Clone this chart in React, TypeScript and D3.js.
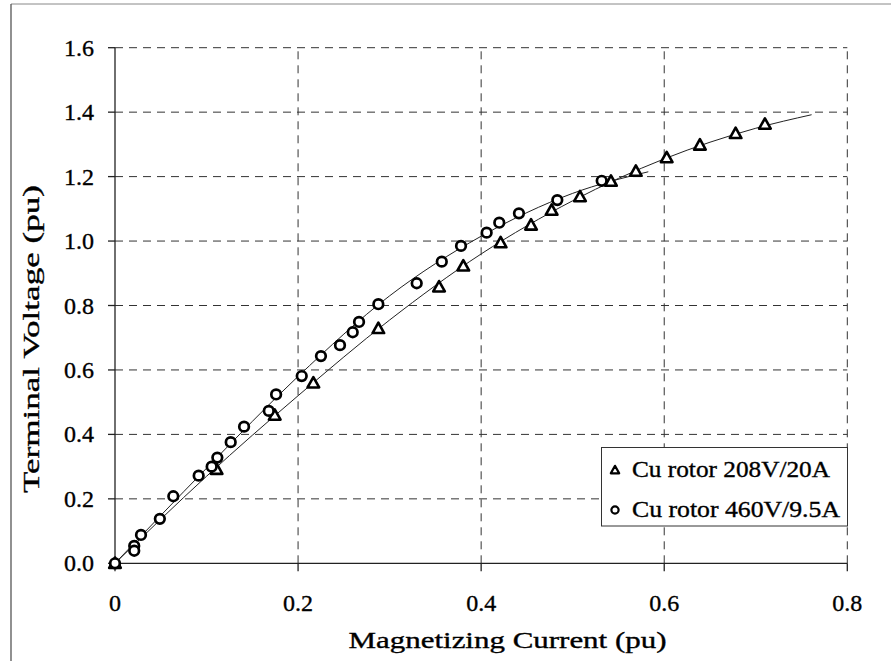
import React from "react";
import * as d3 from "d3";

// Cu rotor 208V/20A (triangles)
const triX = [0, 0.111, 0.1745, 0.2167, 0.2877, 0.354, 0.3805, 0.4213, 0.4545, 0.477, 0.508, 0.5418, 0.569, 0.6027, 0.639, 0.678, 0.71];
const triY = [0, 0.292, 0.46, 0.56, 0.729, 0.858, 0.923, 0.995, 1.05, 1.096, 1.138, 1.186, 1.217, 1.259, 1.298, 1.334, 1.363];

// Cu rotor 460V/9.5A (circles)
const circX = [0, 0.021, 0.021, 0.0284, 0.049, 0.0637, 0.0914, 0.1056, 0.1118, 0.1264, 0.141, 0.168, 0.176, 0.204, 0.225, 0.2458, 0.2597, 0.2666, 0.2877, 0.3296, 0.357, 0.378, 0.406, 0.4198, 0.4413, 0.4832, 0.5317];
const circY = [0, 0.054, 0.039, 0.088, 0.138, 0.208, 0.272, 0.3, 0.328, 0.376, 0.424, 0.473, 0.524, 0.581, 0.643, 0.677, 0.717, 0.749, 0.804, 0.869, 0.936, 0.985, 1.026, 1.057, 1.086, 1.127, 1.187];

// trend lines
const triTrendX = [0, 0.1, 0.2, 0.3, 0.4, 0.5, 0.6, 0.7, 0.761];
const triTrendY = [0, 0.27, 0.52, 0.755, 0.96, 1.125, 1.255, 1.35, 1.392];
const circTrendX = [0, 0.1, 0.2, 0.3, 0.4, 0.5, 0.5826];
const circTrendY = [0, 0.295, 0.58, 0.83, 1.015, 1.148, 1.215];

const xTicks = [0, 0.2, 0.4, 0.6, 0.8];
const yTicks = [0, 0.2, 0.4, 0.6, 0.8, 1.0, 1.2, 1.4, 1.6];
const legendLabels = ["Cu rotor 208V/20A", "Cu rotor 460V/9.5A"];

const W = 891;
const H = 661;
const FONT = "Liberation Serif";

export default function App() {
  const x = d3.scaleLinear().domain([0, 0.8]).range([115, 847.3]);
  const y = d3.scaleLinear().domain([0, 1.6]).range([563.3, 47.7]);

  const line = d3
    .line<[number, number]>()
    .x((d) => x(d[0]))
    .y((d) => y(d[1]))
    .curve(d3.curveMonotoneX);

  const triPts = triX.map((v, i) => [v, triY[i]] as [number, number]);
  const circPts = circX.map((v, i) => [v, circY[i]] as [number, number]);
  const triTrend = triTrendX.map((v, i) => [v, triTrendY[i]] as [number, number]);
  const circTrend = circTrendX.map((v, i) => [v, circTrendY[i]] as [number, number]);

  const triPath = (cx: number, cy: number, s = 5.5) =>
    `M${cx},${cy - s}L${cx + s},${cy + s * 0.8}L${cx - s},${cy + s * 0.8}Z`;

  const dash = "8,6";
  const txt = { fill: "#000", stroke: "#000", strokeWidth: 0.35 };

  return (
    <svg width={W} height={H} style={{ position: "absolute", left: 0, top: 0, background: "#fff" }} fontFamily={FONT}>
      {/* outer frame */}
      <line x1={11} y1={4} x2={W} y2={4} stroke="#888" strokeWidth={1} />
      <line x1={11} y1={4} x2={11} y2={H} stroke="#555" strokeWidth={1.3} />

      {/* grid */}
      {yTicks.slice(1).map((t) => (
        <line key={"gy" + t} x1={x(0)} x2={x(0.8)} y1={y(t)} y2={y(t)} stroke="#333" strokeWidth={1} strokeDasharray={dash} />
      ))}
      {xTicks.slice(1).map((t) => (
        <line key={"gx" + t} x1={x(t)} x2={x(t)} y1={y(0)} y2={y(1.6)} stroke="#333" strokeWidth={1} strokeDasharray={dash} />
      ))}

      {/* axes */}
      <line x1={x(0)} x2={x(0)} y1={y(0)} y2={y(1.6)} stroke="#222" strokeWidth={1.3} />
      <line x1={x(0)} x2={x(0.8)} y1={y(0)} y2={y(0)} stroke="#222" strokeWidth={1.3} />
      {yTicks.map((t) => (
        <g key={"yt" + t}>
          <line x1={x(0) - 7} x2={x(0)} y1={y(t)} y2={y(t)} stroke="#222" strokeWidth={1.3} />
          <text x={94} y={y(t) + 8} fontSize={24} textAnchor="end" {...txt}>
            {t.toFixed(1)}
          </text>
        </g>
      ))}
      {xTicks.map((t) => (
        <g key={"xt" + t}>
          <line x1={x(t)} x2={x(t)} y1={y(0)} y2={y(0) + 8} stroke="#222" strokeWidth={1.3} />
          <text x={x(t)} y={611} fontSize={24} textAnchor="middle" {...txt}>
            {t === 0 ? "0" : t.toFixed(1)}
          </text>
        </g>
      ))}

      {/* axis titles */}
      <text x={507.5} y={647.5} fontSize={23} textAnchor="middle" textLength={318} lengthAdjust="spacingAndGlyphs" {...txt}>
        Magnetizing Current (pu)
      </text>
      <text
        transform="translate(39,339) rotate(-90)"
        fontSize={23}
        textAnchor="middle"
        textLength={308}
        lengthAdjust="spacingAndGlyphs"
        {...txt}
      >
        Terminal Voltage (pu)
      </text>

      {/* trend lines */}
      <path d={line(triTrend) || ""} fill="none" stroke="#222" strokeWidth={1} />
      <path d={line(circTrend) || ""} fill="none" stroke="#222" strokeWidth={1} />

      {/* markers */}
      {triPts.map((d, i) => (
        <path key={"tp" + i} d={triPath(x(d[0]), y(d[1]), 5.8)} fill="#fff" stroke="#000" strokeWidth={2.6} strokeLinejoin="round" />
      ))}
      {circPts.map((d, i) => (
        <circle key={"cp" + i} cx={x(d[0])} cy={y(d[1])} r={4.8} fill="#fff" stroke="#000" strokeWidth={2.7} />
      ))}

      {/* legend */}
      <rect x={601.5} y={447.5} width={246} height={78.5} fill="#fff" stroke="#333" strokeWidth={1} />
      <path d={triPath(615, 470, 4.2)} fill="#fff" stroke="#000" strokeWidth={2.2} strokeLinejoin="round" />
      <circle cx={615} cy={510} r={3.6} fill="#fff" stroke="#000" strokeWidth={2.2} />
      <text x={632} y={476.7} fontSize={23} textLength={198} lengthAdjust="spacingAndGlyphs" {...txt}>
        {legendLabels[0]}
      </text>
      <text x={632} y={516.7} fontSize={23} textLength={208} lengthAdjust="spacingAndGlyphs" {...txt}>
        {legendLabels[1]}
      </text>
    </svg>
  );
}
